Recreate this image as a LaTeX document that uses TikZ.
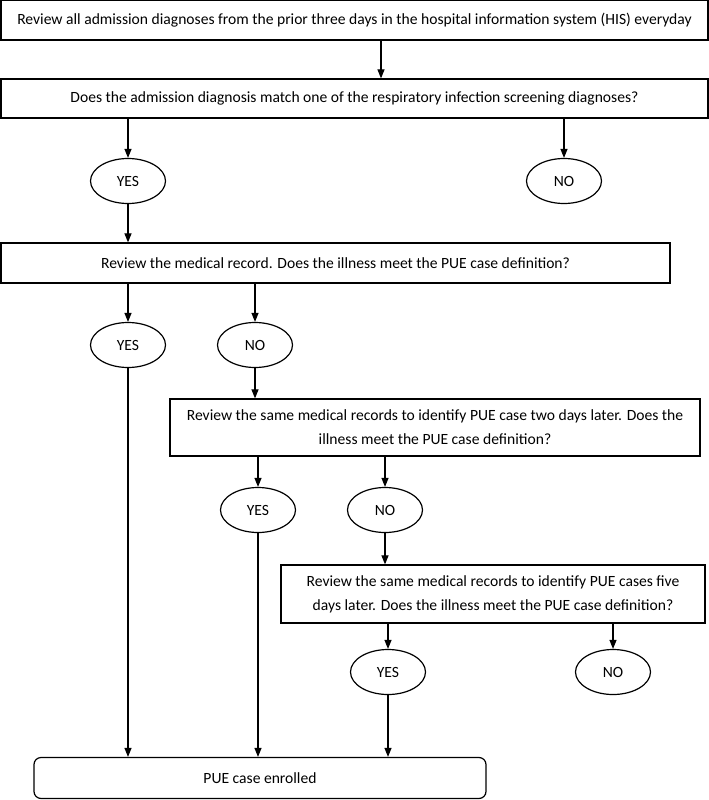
\documentclass[tikz,border=0pt]{standalone}
\usepackage{fontspec}
\setmainfont{Carlito}
\usetikzlibrary{shapes.geometric, arrows.meta, positioning}

\begin{document}
\begin{tikzpicture}[
    x=1pt, y=-1pt,
    font=\fontsize{15.6}{24}\selectfont,
    box/.style={
        rectangle,
        draw=black,
        line width=1.2pt,
        align=center,
        inner sep=0pt
    },
    answer/.style={
        ellipse,
        draw=black,
        line width=1.2pt,
        minimum width=75pt,
        minimum height=45pt,
        inner sep=0pt
    },
    flow/.style={-{Triangle[length=9pt, width=7pt]}, line width=1.1pt}
]

\useasboundingbox (0,0) rectangle (709,800);

% question boxes
\node[box, minimum width=707pt, minimum height=40pt] (his) at (354.5,20)
    {Review all admission diagnoses from the prior three days in the hospital information system (HIS) everyday};
\node[box, minimum width=707pt, minimum height=39pt] (match) at (354.5,98.5)
    {Does the admission diagnosis match one of the respiratory infection screening diagnoses?};
\node[box, minimum width=669pt, minimum height=40pt] (record) at (335.5,263)
    {Review the medical record. Does the illness meet the PUE case definition?};
\node[box, minimum width=530pt, minimum height=57pt] (twodays) at (435,427.5)
    {Review the same medical records to identify PUE case two days later. Does the\\illness meet the PUE case definition?};
\node[box, minimum width=424pt, minimum height=58pt] (fivedays) at (493,594)
    {Review the same medical records to identify PUE cases five\\days later. Does the illness meet the PUE case definition?};
\node[box, rounded corners=7pt, minimum width=452pt, minimum height=41pt] (enrolled) at (260,778)
    {PUE case enrolled};

% answers
\node[answer] (yes1) at (128,181) {YES};
\node[answer] (no1) at (564,181) {NO};
\node[answer] (yes2) at (128,345) {YES};
\node[answer] (no2) at (255,345) {NO};
\node[answer] (yes3) at (258,510) {YES};
\node[answer] (no3) at (385,510) {NO};
\node[answer] (yes4) at (388,672) {YES};
\node[answer] (no4) at (613,672) {NO};

\coordinate (hisout) at (381,40);

% arrows
\draw[flow] (his.south -| hisout) -- (match.north -| hisout);
\draw[flow] (match.south -| yes1) -- (yes1);
\draw[flow] (match.south -| no1) -- (no1);
\draw[flow] (yes1) -- (record.north -| yes1);
\draw[flow] (record.south -| yes2) -- (yes2);
\draw[flow] (record.south -| no2) -- (no2);
\draw[flow] (no2) -- (twodays.north -| no2);
\draw[flow] (twodays.south -| yes3) -- (yes3);
\draw[flow] (twodays.south -| no3) -- (no3);
\draw[flow] (no3) -- (fivedays.north -| no3);
\draw[flow] (fivedays.south -| yes4) -- (yes4);
\draw[flow] (fivedays.south -| no4) -- (no4);
\draw[flow] (yes2) -- (enrolled.north -| yes2);
\draw[flow] (yes3) -- (enrolled.north -| yes3);
\draw[flow] (yes4) -- (enrolled.north -| yes4);

\end{tikzpicture}
\end{document}
